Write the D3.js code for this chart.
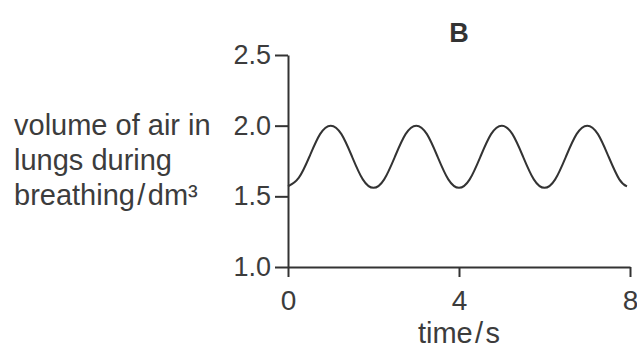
<!DOCTYPE html>
<html>
<head>
<meta charset="utf-8">
<script src="https://cdn.jsdelivr.net/npm/d3@7"></script>
<style>
  html, body { margin: 0; padding: 0; background: #fff; }
  svg { display: block; font-family: "Liberation Sans", Arial, sans-serif; }
  .axis path, .axis line { stroke: #333; stroke-width: 2; }
  .axis text { fill: #3c3c3c; font-size: 27px; font-family: "Liberation Sans", Arial, sans-serif; }
  .axis.x text { font-size: 28px; }
</style>
</head>
<body>
<div id="chart"></div>
<script>
// --- data ---
const timeS = [0, 0.25, 0.5, 0.75, 1, 1.25, 1.5, 1.75, 2, 2.25, 2.5, 2.75, 3, 3.25, 3.5, 3.75,
               4, 4.25, 4.5, 4.75, 5, 5.25, 5.5, 5.75, 6, 6.25, 6.5, 6.75, 7, 7.25, 7.5, 7.75, 7.93];
const volume = [1.57, 1.63, 1.78, 1.94, 2.0, 1.94, 1.78, 1.62, 1.56, 1.62, 1.78, 1.94, 2.0, 1.94, 1.78, 1.62,
                1.56, 1.62, 1.78, 1.94, 2.0, 1.94, 1.78, 1.62, 1.56, 1.62, 1.78, 1.94, 2.0, 1.94, 1.78, 1.62, 1.57];
const xTicks = [0, 4, 8];
const yTicks = [1.0, 1.5, 2.0, 2.5];
const yLabelLines = ["volume of air in", "lungs during", "breathing\u200A/\u200Adm\u00B3"];
const xLabel = "time\u200A/\u200As";
const title = "B";

// --- setup ---
const width = 637, height = 352;
const svg = d3.select("#chart").append("svg").attr("width", width).attr("height", height);

const x = d3.scaleLinear().domain([0, 8]).range([288, 630]);
const y = d3.scaleLinear().domain([1, 2.5]).range([267, 55]);

// axes
svg.append("g")
    .attr("class", "axis x")
    .attr("transform", `translate(0,${y(1)})`)
    .call(d3.axisBottom(x).tickValues(xTicks).tickFormat(d3.format("d")).tickSize(10).tickSizeOuter(0).tickPadding(13));

svg.append("g")
    .attr("class", "axis y")
    .attr("transform", `translate(${x(0)},0)`)
    .call(d3.axisLeft(y).tickValues(yTicks).tickFormat(d3.format(".1f")).tickSize(13).tickSizeOuter(0).tickPadding(4));

// breathing trace
const line = d3.line()
    .x((d, i) => x(timeS[i]))
    .y(d => y(d))
    .curve(d3.curveNatural);

svg.append("path")
    .datum(volume)
    .attr("d", line)
    .attr("fill", "none")
    .attr("stroke", "#333")
    .attr("stroke-width", 2);

// title
svg.append("text")
    .attr("x", x(4))
    .attr("y", 42)
    .attr("text-anchor", "middle")
    .attr("font-size", 27)
    .attr("font-weight", "bold")
    .attr("fill", "#333")
    .text(title);

// x label
svg.append("text")
    .attr("x", x(4))
    .attr("y", 343)
    .attr("text-anchor", "middle")
    .attr("font-size", 29)
    .attr("fill", "#3c3c3c")
    .text(xLabel);

// y label, three lines left aligned
svg.append("g").selectAll("text")
    .data(yLabelLines)
    .join("text")
    .attr("x", 14)
    .attr("y", (d, i) => 135 + i * 35)
    .attr("font-size", 29)
    .attr("fill", "#3c3c3c")
    .text(d => d);
</script>
</body>
</html>
